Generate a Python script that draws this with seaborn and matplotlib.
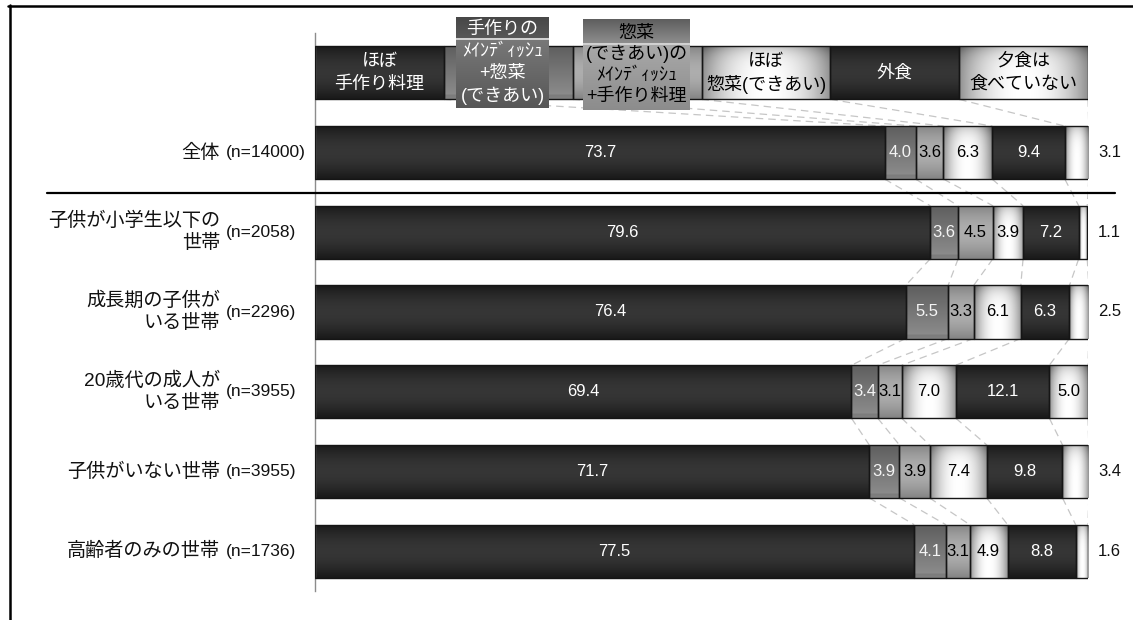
import numpy as np
import matplotlib
matplotlib.use("Agg")
import matplotlib.pyplot as plt
from matplotlib.lines import Line2D
import seaborn as sns

# ---------------- data ----------------
groups = ["全体", "子供が小学生以下の世帯", "成長期の子供がいる世帯",
          "20歳代の成人がいる世帯", "子供がいない世帯", "高齢者のみの世帯"]
group_lines = [["全体"], ["子供が小学生以下の", "世帯"], ["成長期の子供が", "いる世帯"],
               ["20歳代の成人が", "いる世帯"], ["子供がいない世帯"], ["高齢者のみの世帯"]]
sample_sizes = [14000, 2058, 2296, 3955, 3955, 1736]

segment_names = [["ほぼ", "手作り料理"],
                 ["手作りの", "ﾒｲﾝﾃﾞｨｯｼｭ", "+惣菜", "(できあい)"],
                 ["惣菜", "(できあい)の", "ﾒｲﾝﾃﾞｨｯｼｭ", "+手作り料理"],
                 ["ほぼ", "惣菜(できあい)"],
                 ["外食"],
                 ["夕食は", "食べていない"]]

homemade = [73.7, 79.6, 76.4, 69.4, 71.7, 77.5]
homemade_main_deli = [4.0, 3.6, 5.5, 3.4, 3.9, 4.1]
deli_main_homemade = [3.6, 4.5, 3.3, 3.1, 3.9, 3.1]
mostly_deli = [6.3, 3.9, 6.1, 7.0, 7.4, 4.9]
eating_out = [9.4, 7.2, 6.3, 12.1, 9.8, 8.8]
no_dinner = [3.1, 1.1, 2.5, 5.0, 3.4, 1.6]

series = [homemade, homemade_main_deli, deli_main_homemade,
          mostly_deli, eating_out, no_dinner]

# ---------------- style ----------------
sns.set_theme(style="white")
plt.rcParams["font.family"] = ["Liberation Sans", "Noto Sans CJK JP"]

W, H = 1133, 620
fig = plt.figure(figsize=(W / 100, H / 100), dpi=100)
fig.patch.set_facecolor("white")
ax = fig.add_axes([315 / W, 1 - 591 / H, (1088 - 315) / W, (591 - 33) / H])

BAR_H = 0.665
KEY_ROW = "凡例"
order = [KEY_ROW] + groups
shades = ["dark", "mid", "light", "white", "dark", "white"]
base_cols = ["#262626", "#767676", "#a0a0a0", "#e8e8e8", "#262626", "#e8e8e8"]
text_cols = ["white", "#f4f4f4", "black", "black", "white", "black"]
EDGE = "#151515"
LABEL_FS = 13.8
KEY_FS = 13.0


def shade(kind, nx=48, ny=48):
    u = np.linspace(0, 1, nx)
    t = np.linspace(0, 1, ny)
    U, T = np.meshgrid(u, t)
    if kind == "dark":
        v = 0.10 + 0.11 * np.sin(np.pi * T)
    elif kind == "mid":
        v = 0.37 + 0.19 * T - 0.06 * (T > 0.93)
    elif kind == "light":
        v = 0.52 + 0.16 * np.sin(np.pi * T)
    else:
        v = 1.0 - 0.42 * np.abs(2 * U - 1) ** 2.2 - 0.25 * (1 - T) ** 6
    v = np.clip(v, 0, 1)
    return np.dstack([v, v, v])


def paint(patch, kind):
    x0, y0 = patch.get_x(), patch.get_y()
    w, h = patch.get_width(), patch.get_height()
    im = ax.imshow(shade(kind), extent=(x0, x0 + w, y0 + h, y0),
                   aspect="auto", interpolation="bilinear", zorder=2)
    im.set_clip_path(patch)
    patch.set_facecolor("none")
    patch.set_zorder(3)


# stacked bars, one seaborn call per answer category
vals = np.array(series).T                      # rows x categories
ends = np.cumsum(vals, axis=1)
lefts = ends - vals
for k in range(len(series)):
    n0 = len(ax.patches)
    sns.barplot(x=vals[:, k], y=groups, order=order, orient="h",
                left=lefts[:, k], color=base_cols[k], saturation=1,
                width=BAR_H, edgecolor=EDGE, linewidth=1.0,
                errorbar=None, ax=ax, zorder=3)
    for p in ax.patches[n0:]:
        paint(p, shades[k])

# key row drawn as an evenly divided bar
n_seg = len(segment_names)
key_w = 100 / n_seg
key_bars = ax.barh([0] * n_seg, [key_w] * n_seg,
                   left=[i * key_w for i in range(n_seg)], height=BAR_H,
                   color=base_cols, edgecolor=EDGE, linewidth=1.0, zorder=3)
for k, p in enumerate(key_bars):
    paint(p, shades[k])

# connecting series lines between neighbouring bars
bounds = [np.arange(1, n_seg + 1) * key_w] + [row for row in ends]
for r in range(len(bounds) - 1):
    for k in range(n_seg):
        ax.plot([bounds[r][k], bounds[r + 1][k]],
                [r + BAR_H / 2, r + 1 - BAR_H / 2],
                color="#c6c6c6", lw=0.9, ls=(0, (6, 4)), zorder=1)

# value labels
for r in range(vals.shape[0]):
    y = r + 1
    for k in range(n_seg):
        v = vals[r, k]
        if k == n_seg - 1 and v < 4.5:
            ax.annotate(f"{v:.1f}", xy=(100, y), xytext=(10, 0),
                        textcoords="offset pixels", ha="left", va="center",
                        fontsize=12, color="#111111", annotation_clip=False)
        else:
            ax.text(lefts[r, k] + v / 2, y, f"{v:.1f}", ha="center",
                    va="center", fontsize=12, color=text_cols[k], zorder=5)

# row labels
for r, (lines, n) in enumerate(zip(group_lines, sample_sizes)):
    y = r + 1
    ax.annotate(f"(n={n})", xy=(0, y), xytext=(226 - 315, 0),
                textcoords="offset pixels", ha="left", va="center",
                fontsize=12.5, color="#111111", annotation_clip=False)
    m = len(lines)
    for i, line in enumerate(lines):
        ax.annotate(line, xy=(0, y), xytext=(220 - 315, ((m - 1) / 2 - i) * 22),
                    textcoords="offset pixels", ha="right", va="center",
                    fontsize=LABEL_FS, color="#111111", annotation_clip=False)

# key labels inside the key bar
for k in (0, 3, 4, 5):
    lines = segment_names[k]
    m = len(lines)
    for i, line in enumerate(lines):
        ax.annotate(line, xy=((k + 0.5) * key_w, 0),
                    xytext=(0, ((m - 1) / 2 - i) * 23),
                    textcoords="offset pixels", ha="center", va="center",
                    fontsize=KEY_FS, color=text_cols[k], zorder=6,
                    annotation_clip=False)


# taller caption boxes for the two mixed categories
def caption_box(x0, y0, x1, y1, split, top_rng, low_rng, lines, spacing, color):
    bax = fig.add_axes([x0 / W, 1 - y1 / H, (x1 - x0) / W, (y1 - y0) / H], zorder=5)
    n = int(y1 - y0)
    prof = np.empty(n)
    s = int(split - y0)
    prof[:s] = np.linspace(top_rng[0], top_rng[1], s)
    prof[s:s + 2] = 0.82
    prof[s + 2:] = np.linspace(low_rng[0], low_rng[1], n - s - 2)
    img = np.repeat(prof[:, None], 8, axis=1)
    bax.imshow(np.dstack([img, img, img]), aspect="auto", extent=(0, 1, 0, 1),
               interpolation="bilinear")
    bax.set_xlim(0, 1)
    bax.set_ylim(0, 1)
    bax.axis("off")
    m = len(lines)
    for i, line in enumerate(lines):
        bax.annotate(line, xy=(0.5, 0.5), xytext=(0, ((m - 1) / 2 - i) * spacing),
                     textcoords="offset pixels", ha="center", va="center",
                     fontsize=KEY_FS, color=color)


caption_box(456, 17, 549, 108, 38, (0.28, 0.34), (0.47, 0.34),
            segment_names[1], 22, "white")
caption_box(583, 19, 690, 110, 43, (0.37, 0.55), (0.66, 0.55),
            segment_names[2], 21, "black")

# axes cosmetics
ax.set_xlim(0, 100)
ax.set_ylim(len(order) - 0.5, -0.5)
ax.set_xlabel("")
ax.set_ylabel("")
ax.set_xticks([])
ax.set_yticks([])
ax.set_facecolor("none")
for side in ("top", "right", "bottom"):
    ax.spines[side].set_visible(False)
ax.spines["left"].set_color("#8c8c8c")
ax.spines["left"].set_linewidth(1.0)

# outer frame and the divider under the total row
fig.add_artist(Line2D([8 / W, 1.0], [1 - 5.5 / H] * 2, transform=fig.transFigure,
                      color="black", lw=1.8))
fig.add_artist(Line2D([9.5 / W] * 2, [1 - 5 / H, 0.0], transform=fig.transFigure,
                      color="black", lw=1.8))
fig.add_artist(Line2D([47 / W, 1115 / W], [1 - 193 / H] * 2, transform=fig.transFigure,
                      color="black", lw=1.6))

fig.savefig("out.png", dpi=100)
